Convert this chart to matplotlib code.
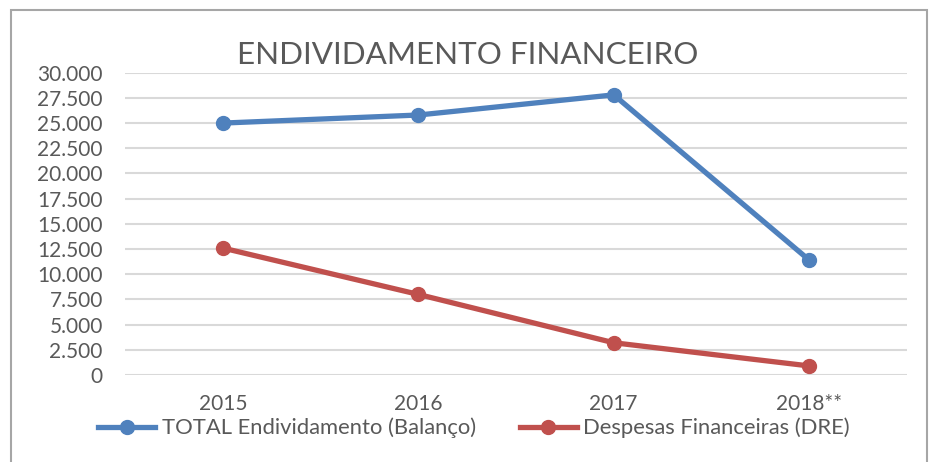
import matplotlib
matplotlib.use("Agg")
import matplotlib.pyplot as plt
from matplotlib.patches import Rectangle
from matplotlib.lines import Line2D

categories = ["2015", "2016", "2017", "2018**"]
total_endividamento = [25000, 25800, 27800, 11400]
despesas_financeiras = [12600, 8000, 3200, 900]
series_names = ["TOTAL Endividamento (Balanço)", "Despesas Financeiras (DRE)"]
title = "ENDIVIDAMENTO FINANCEIRO"
yticks = list(range(0, 30001, 2500))

BLUE = "#4F81BD"
RED = "#C0504D"
TXT = "#595959"
GRID = "#D9D9D9"

plt.rcParams['font.family'] = ['Lato', 'DejaVu Sans']

W, H = 933, 462
fig = plt.figure(figsize=(W / 100, H / 100), dpi=100)
ax = fig.add_axes([125 / W, 1 - 375 / H, (907 - 125) / W, (375 - 72.7) / H])

x = list(range(len(categories)))
ax.plot(x, total_endividamento, color=BLUE, lw=3.8, marker='o', ms=10,
        solid_capstyle='round', zorder=3)
ax.plot(x, despesas_financeiras, color=RED, lw=3.8, marker='o', ms=10,
        solid_capstyle='round', zorder=3)

ax.set_xlim(-0.5, len(categories) - 0.5)
ax.set_ylim(0, 30000)
ax.set_yticks(yticks)
ax.set_yticklabels([f"{v:,}".replace(",", ".") for v in yticks])
ax.set_xticks(x)
ax.set_xticklabels(categories)
ax.tick_params(axis='both', length=0, colors=TXT, labelsize=15)
ax.tick_params(axis='y', pad=16)
ax.tick_params(axis='x', pad=14)
ax.yaxis.grid(True, color=GRID, lw=1.5)
ax.set_axisbelow(True)
for s in ax.spines.values():
    s.set_visible(False)

fig.text(0.5 * (238 + 698) / W, 1 - 55 / H, title, ha='center', va='center',
         fontsize=22.6, color=TXT)

# legend
handles = [Line2D([], [], color=BLUE, lw=3.8, marker='o', ms=10),
           Line2D([], [], color=RED, lw=3.8, marker='o', ms=10)]
fig.legend(handles, series_names, loc='center', bbox_to_anchor=(474 / W, 1 - 428 / H),
           ncol=2, frameon=False, fontsize=15.8, labelcolor=TXT, handlelength=2.6,
           handletextpad=0.3, columnspacing=2.0)

# outer border
fig.add_artist(Rectangle((11 / W, -0.1), (927 - 11) / W, 1.1 - 10 / H + 0.0,
                         transform=fig.transFigure, fill=False,
                         edgecolor="#A6A6A6", lw=1.5))

fig.savefig("out.png", dpi=100)
